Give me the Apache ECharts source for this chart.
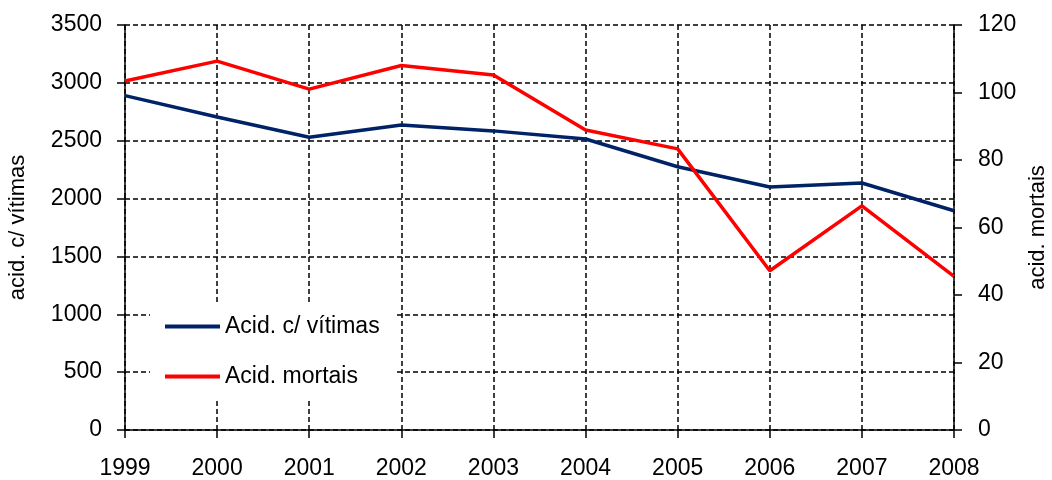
<!DOCTYPE html>
<html>
<head>
<meta charset="utf-8">
<script src="https://cdn.jsdelivr.net/npm/echarts@6/dist/echarts.min.js"></script>
<style>
  html, body { margin: 0; padding: 0; background: #fff; }
  #chart { width: 1052px; height: 480px; }
</style>
</head>
<body>
<div id="chart"></div>
<script>
var years = ['1999', '2000', '2001', '2002', '2003', '2004', '2005', '2006', '2007', '2008'];
var comVitimas = [2890, 2705, 2530, 2635, 2585, 2515, 2275, 2100, 2135, 1895];
var mortais = [103.4, 109.3, 101, 108, 105.2, 88.9, 83.3, 47.2, 66.4, 45.5];

var font = 'Liberation Sans, Arial, sans-serif';
var dashed = { color: '#000', width: 1.5, type: [5, 3] };
var plain = function (v) { return String(v); };

var chart = echarts.init(document.getElementById('chart'));

var option = {
    animation: false,
    textStyle: { fontFamily: font },
    grid: { left: 125, right: 98, top: 25, bottom: 50, outerBoundsMode: 'none', containLabel: false },
    legend: {
        orient: 'vertical',
        left: 150,
        top: 302,
        backgroundColor: '#fff',
        padding: [13, 16, 12, 15],
        itemWidth: 55,
        itemHeight: 4,
        itemGap: 27,
        icon: 'rect',
        textStyle: { fontSize: 23, color: '#000', fontFamily: font },
        z: 10
    },
    xAxis: {
        type: 'category',
        data: years,
        boundaryGap: false,
        axisLine: { lineStyle: { color: '#000', width: 1.5 } },
        axisTick: { length: 8, lineStyle: { color: '#000', width: 1.5 } },
        axisLabel: { fontSize: 23, color: '#000', margin: 27 },
        splitLine: { show: true, lineStyle: dashed }
    },
    yAxis: [{
        type: 'value',
        min: 0, max: 3500, interval: 500,
        name: 'acid. c/ vítimas',
        nameLocation: 'middle',
        nameGap: 96,
        nameTextStyle: { fontSize: 22, color: '#000' },
        axisLine: { show: true, lineStyle: { color: '#000', width: 1.5 } },
        axisTick: { show: true, length: 8, lineStyle: { color: '#000', width: 1.5 } },
        axisLabel: { fontSize: 23, color: '#000', margin: 23, formatter: plain },
        splitLine: { show: true, lineStyle: dashed }
    }, {
        type: 'value',
        min: 0, max: 120, interval: 20,
        name: 'acid. mortais',
        nameLocation: 'middle',
        nameGap: 72,
        nameRotate: 90,
        nameTextStyle: { fontSize: 22, color: '#000' },
        axisLine: { show: true, lineStyle: { color: '#000', width: 1.5 } },
        axisTick: { show: true, length: 8, lineStyle: { color: '#000', width: 1.5 } },
        axisLabel: { fontSize: 23, color: '#000', margin: 24, formatter: plain },
        splitLine: { show: false }
    }],
    series: [{
        name: 'Acid. c/ vítimas',
        type: 'line',
        data: comVitimas,
        yAxisIndex: 0,
        symbol: 'none',
        lineStyle: { color: '#002266', width: 3.5 },
        itemStyle: { color: '#002266' }
    }, {
        name: 'Acid. mortais',
        type: 'line',
        data: mortais,
        yAxisIndex: 1,
        symbol: 'none',
        lineStyle: { color: '#ff0000', width: 3.5 },
        itemStyle: { color: '#ff0000' }
    }]
};

chart.setOption(option);
</script>
</body>
</html>
